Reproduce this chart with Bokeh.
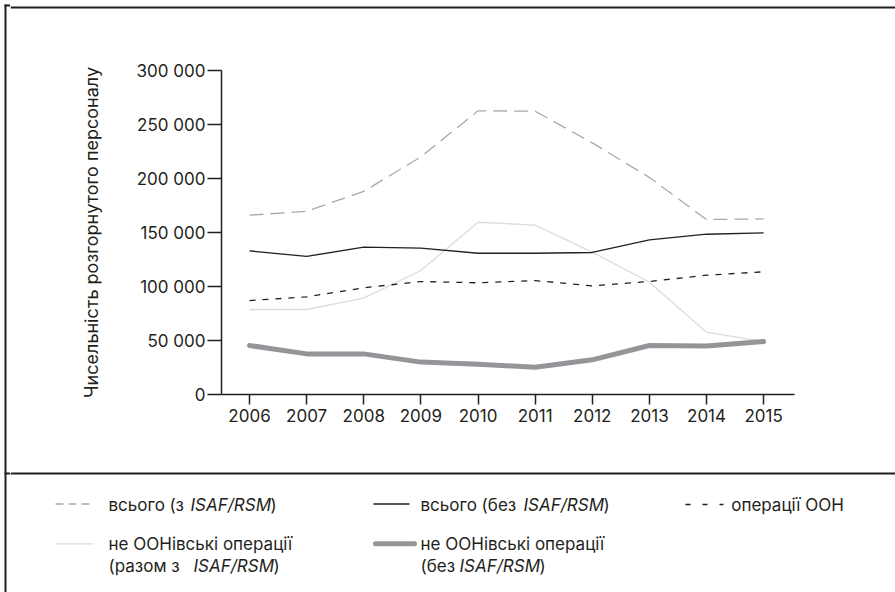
from bokeh.plotting import figure
from bokeh.models import Range1d, FixedTicker
from bokeh.layouts import column, row
from bokeh.embed import file_html
from bokeh.resources import INLINE
from bokeh.core.properties import value

# ---------------- data ----------------
years = [2006, 2007, 2008, 2009, 2010, 2011, 2012, 2013, 2014, 2015]
total_with_isaf = [166000, 169700, 188000, 220000, 262700, 262300, 233000, 201000, 162000, 162600]
total_without_isaf = [133000, 127800, 136400, 135500, 130800, 130800, 131500, 143200, 148400, 149700]
un_operations = [87000, 90400, 98800, 104600, 103400, 105500, 100600, 104600, 110500, 113600]
non_un_with_isaf = [78700, 78700, 89200, 114800, 159500, 156800, 131800, 104000, 57700, 49000]
non_un_without_isaf = [45400, 37600, 37600, 30000, 28000, 25300, 32100, 45400, 44800, 49000]

y_ticks = [0, 50000, 100000, 150000, 200000, 250000, 300000]
y_tick_labels = ["0", "50 000", "100 000", "150 000", "200 000", "250 000", "300 000"]
x_tick_labels = [str(y) for y in years]
y_title = "Чисельність розгорнутого персоналу"

label_total_with = ["всього (з ", "ISAF/RSM", ")"]
label_total_without = ["всього (без ", "ISAF/RSM", ")"]
label_un = ["операції ООН"]
label_non_un_with = ["не ООНівські операції", "(разом з ", "ISAF/RSM", ")"]
label_non_un_without = ["не ООНівські операції", "(без ", "ISAF/RSM", ")"]

# ---------------- style ----------------
INK = "#231f20"
FONT = "Inter"
C_TOTAL_WITH = "#a7a9ac"
C_NON_UN_WITH = "#dcdcdc"
C_NON_UN_WITHOUT = "#939598"

W = 895
HT = 592
H_STRIP = 10
W_STRIP = 10
Y_LEG = 471
H_CHART = Y_LEG - H_STRIP
H_LEG = HT - Y_LEG
W_MAIN = W - W_STRIP


def blank(width, height, xr, yr):
    f = figure(width=width, height=height, output_backend="svg", toolbar_location=None,
               x_range=Range1d(*xr), y_range=Range1d(*yr), min_border=0,
               x_axis_location=None, y_axis_location=None,
               background_fill_color="white", border_fill_color="white")
    f.outline_line_color = None
    f.grid.visible = False
    f.frame_align = False
    return f


# left border strip, full height (page coordinates, y downwards)
lft = blank(W_STRIP, HT, (0, W_STRIP), (HT, 0))
lft.quad(left=[4], right=[6], top=[4], bottom=[HT], fill_color=INK, line_color=None)
lft.quad(left=[4], right=[W_STRIP], top=[4], bottom=[6], fill_color=INK, line_color=None)
lft.quad(left=[4], right=[W_STRIP], top=[472], bottom=[474], fill_color=INK, line_color=None)

# top border strip
top = blank(W_MAIN, H_STRIP, (W_STRIP, W), (H_STRIP, 0))
top.quad(left=[W_STRIP], right=[W], top=[4], bottom=[6], fill_color=INK, line_color=None)

# ---------------- chart ----------------
p = figure(width=W_MAIN, height=H_CHART, output_backend="svg", toolbar_location=None,
           x_range=Range1d(2005.51, 2015.54), y_range=Range1d(0, 300000),
           min_border_left=221 - W_STRIP, min_border_right=W - 794,
           min_border_top=70 - H_STRIP, min_border_bottom=Y_LEG - 394,
           background_fill_color="white", border_fill_color="white")
p.outline_line_color = None
p.grid.visible = False
p.frame_align = False

p.xaxis.ticker = FixedTicker(ticks=years)
p.xaxis.major_label_overrides = {y: s for y, s in zip(years, x_tick_labels)}
p.yaxis.ticker = FixedTicker(ticks=y_ticks)
p.yaxis.major_label_overrides = {tk: s for tk, s in zip(y_ticks, y_tick_labels)}

for ax in (p.xaxis, p.yaxis):
    ax.axis_line_color = INK
    ax.axis_line_width = 1.5
    ax.major_tick_line_color = INK
    ax.major_tick_line_width = 1.5
    ax.major_tick_in = 0
    ax.minor_tick_line_color = None
    ax.major_label_text_font = FONT
    ax.major_label_text_font_size = "17px"
    ax.major_label_text_color = INK
p.xaxis.major_tick_out = 10
p.xaxis.major_label_standoff = 4
p.yaxis.major_tick_out = 14
p.yaxis.major_label_standoff = 2
p.yaxis.axis_label = y_title
p.yaxis.axis_label_text_font = FONT
p.yaxis.axis_label_text_font_style = "normal"
p.yaxis.axis_label_text_font_size = "18px"
p.yaxis.axis_label_text_color = INK
p.yaxis.axis_label_standoff = 32

p.line(years, non_un_with_isaf, line_color=C_NON_UN_WITH, line_width=1.3)
p.line(years, total_with_isaf, line_color=C_TOTAL_WITH, line_width=1.3, line_dash="14 7")
p.line(years, total_without_isaf, line_color=INK, line_width=1.3)
p.line(years, un_operations, line_color=INK, line_width=1.3, line_dash="6 7")
p.line(years, non_un_without_isaf, line_color=C_NON_UN_WITHOUT, line_width=5,
       line_cap="round", line_join="round")

# ---------------- legend panel (page pixel coordinates) ----------------
q = blank(W_MAIN, H_LEG, (W_STRIP, W), (HT, Y_LEG))
q.quad(left=[W_STRIP], right=[W], top=[472], bottom=[474], fill_color=INK, line_color=None)

q.line([55, 93], [503.5, 503.5], line_color=C_TOTAL_WITH, line_width=1.3, line_dash="8 5")
q.line([55, 93], [543.3, 543.3], line_color=C_NON_UN_WITH, line_width=1.3)
q.line([373, 409], [503.5, 503.5], line_color=INK, line_width=1.3)
q.line([375, 414], [543.3, 543.3], line_color=C_NON_UN_WITHOUT, line_width=5, line_cap="round")
q.line([685, 723], [504, 504], line_color=INK, line_width=1.3, line_dash="5 12")


def txt(xs, ys, texts, style="normal"):
    q.text(x=xs, y=ys, text=texts, text_font=value(FONT), text_font_size="17px",
           text_color=INK, text_baseline="middle", text_align="left", text_font_style=style)


txt([108, 270, 420, 603, 730.7, 108, 108, 273, 420, 420, 539],
    [504, 504, 504, 504, 504, 543.3, 565, 565, 543.3, 565, 565],
    [label_total_with[0], label_total_with[2],
     label_total_without[0], label_total_without[2],
     label_un[0],
     label_non_un_with[0], label_non_un_with[1], label_non_un_with[3],
     label_non_un_without[0], label_non_un_without[1], label_non_un_without[3]])
txt([190, 523, 193, 459], [504, 504, 565, 565],
    [label_total_with[1], label_total_without[1], label_non_un_with[2], label_non_un_without[2]],
    style="italic")

layout = row(lft, column(top, p, q, spacing=0), spacing=0)
open("out.html", "w").write(file_html(layout, INLINE))
